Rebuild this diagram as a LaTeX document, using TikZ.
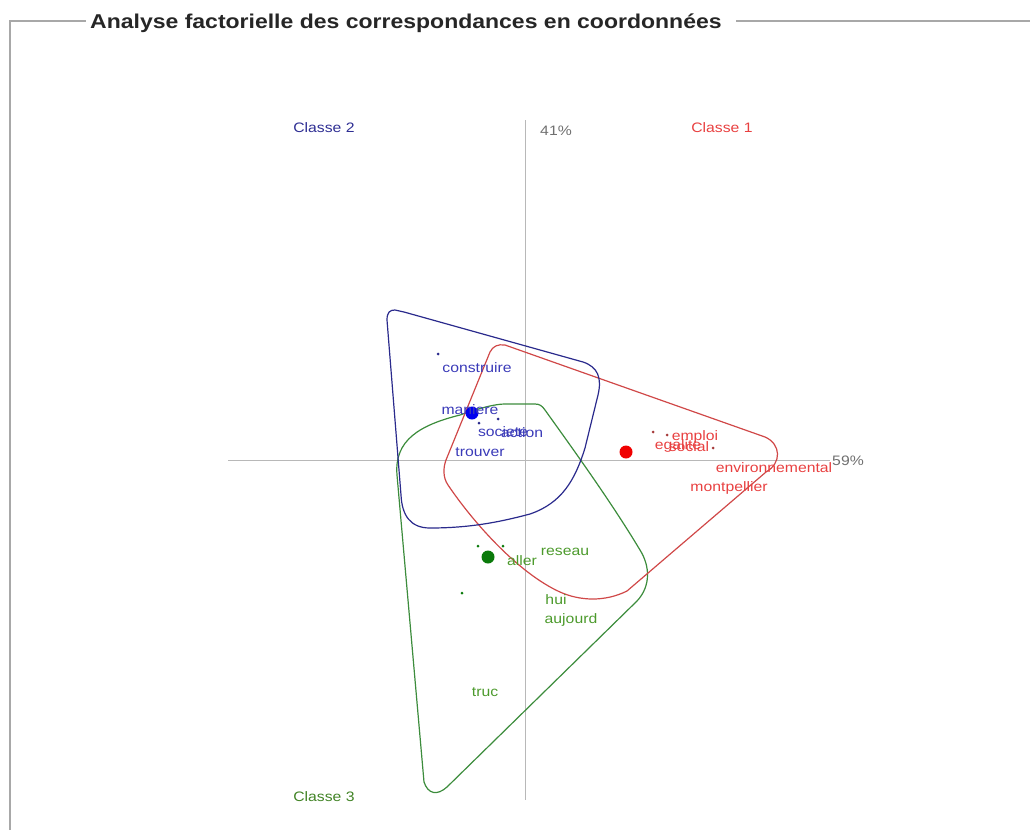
\documentclass[tikz,border=0pt]{standalone}
\usepackage{fontspec}
\setmainfont{Liberation Sans}
\newfontfamily\labfont[FakeStretch=1.15]{Liberation Sans}
\definecolor{framegray}{HTML}{A8A8A8}
\definecolor{axisgray}{HTML}{B8B8B8}
\definecolor{pctgray}{HTML}{707070}
\definecolor{bluecurve}{HTML}{2A2A8C}
\definecolor{bluetext}{HTML}{3A3AB8}
\definecolor{bluedot}{HTML}{0000F0}
\definecolor{redcurve}{HTML}{D04848}
\definecolor{redtext}{HTML}{E84040}
\definecolor{reddot}{HTML}{F00000}
\definecolor{greencurve}{HTML}{3C8C3C}
\definecolor{greentext}{HTML}{4C9A2C}
\definecolor{greendot}{HTML}{0A7A0A}
\begin{document}
\begin{tikzpicture}[x=1pt,y=-1pt,
  frame/.style={draw=framegray,line width=1.6pt},
  axis/.style={draw=axisgray,line width=1pt},
  hull/.style={line width=1.2pt},
  lab/.style={font=\labfont\fontsize{13.7}{16}\selectfont,inner sep=0pt,anchor=center},
  bigdot/.style={circle,inner sep=0pt,minimum size=13pt},
  smalldot/.style={circle,inner sep=0pt,minimum size=3pt}]
\useasboundingbox (0,0) rectangle (1030,830);
% frame
\node[font=\labfont\bfseries\fontsize{20}{24}\selectfont,inner sep=0pt,anchor=base west,text=black!85] (title) at (90,28) {Analyse factorielle des correspondances en coordonnées};
\coordinate (fa) at (10,830);
\coordinate (fb) at (10,21);
\coordinate (fc) at (86,21);
\coordinate (fd) at (736,21);
\coordinate (fe) at (1030,21);
\draw[frame] (fa) -- (fb) -- (fc);
\draw[frame] (fd) -- (fe);
% axes
\coordinate (ay1) at (525,120);
\coordinate (ay2) at (525,800);
\coordinate (ax1) at (228,460);
\coordinate (ax2) at (830,460);
\draw[axis] (ay1) -- (ay2);
\draw[axis] (ax1) -- (ax2);
% hulls
\draw[hull,greencurve] (505,404) -- (535,404) .. controls (540,404) and (542,406) .. (545,410)
  .. controls (570,445) and (610,500) .. (640,550) .. controls (650,566) and (651,586) .. (637,601)
  -- (447,787) .. controls (437,796) and (428,794) .. (424,782)
  -- (397,475) .. controls (394,440) and (420,425) .. (460,415) .. controls (480,408) and (495,404) .. (505,404) -- cycle;
\draw[hull,redcurve] (505,345) -- (765,437) .. controls (781,444) and (782,463) .. (766,472)
  -- (627,591) .. controls (605,602) and (580,601) .. (560,592) .. controls (520,574) and (475,525) .. (448,485)
  .. controls (443,478) and (443,468) .. (446,460) -- (490,352) .. controls (493,346) and (498,344) .. (505,345) -- cycle;
\draw[hull,bluecurve] (395,310) -- (404,312) -- (583,362) .. controls (598,367) and (602,378) .. (598,395)
  -- (585,448) .. controls (575,480) and (562,503) .. (530,514) .. controls (500,522) and (470,528) .. (430,528)
  .. controls (410,528) and (402,515) .. (401,495) -- (387,320) .. controls (387,312) and (390,310) .. (395,310) -- cycle;
% dots
\node[bigdot,fill=bluedot] (cb) at (472,413) {};
\node[bigdot,fill=reddot] (cr) at (626,452) {};
\node[bigdot,fill=greendot] (cg) at (488,557) {};
\node[smalldot,fill=bluecurve] (b1) at (438,354) {};
\node[smalldot,fill=bluecurve] (b2) at (479,423) {};
\node[smalldot,fill=bluecurve] (b3) at (498,419) {};
\node[smalldot,fill=redcurve!80!black] (r1) at (653,432) {};
\node[smalldot,fill=redcurve!80!black] (r2) at (667,435) {};
\node[smalldot,fill=redcurve!80!black] (r3) at (713,448) {};
\node[smalldot,fill=greendot] (g1) at (478,546) {};
\node[smalldot,fill=greendot] (g2) at (503,546) {};
\node[smalldot,fill=greendot] (g3) at (462,593) {};
% axis labels
\node[lab,text=pctgray] (p41) at (556,131) {41\%};
\node[lab,text=pctgray] (p59) at (848,461) {59\%};
% class labels
\node[lab,text=bluetext!80!black] (c2) at (324,128) {Classe 2};
\node[lab,text=redtext] (c1) at (722,128) {Classe 1};
\node[lab,text=greentext!85!black] (c3) at (324,797) {Classe 3};
% blue words
\node[lab,text=bluetext] (w1) at (477,368) {construire};
\node[lab,text=bluetext] (w2) at (470,410) {maniere};
\node[lab,text=bluetext] (w3) at (503,432) {societe};
\node[lab,text=bluetext] (w4) at (522,433) {action};
\node[lab,text=bluetext] (w5) at (480,452) {trouver};
% red words
\node[lab,text=redtext] (w6) at (695,437) {emploi};
\node[lab,text=redtext] (w7) at (678,446) {egalite};
\node[lab,text=redtext] (w8) at (689,447) {social};
\node[lab,text=redtext] (w9) at (774,468) {environnemental};
\node[lab,text=redtext] (w10) at (729,488) {montpellier};
% green words
\node[lab,text=greentext] (w11) at (565,552) {reseau};
\node[lab,text=greentext] (w12) at (522,561) {aller};
\node[lab,text=greentext] (w13) at (556,600) {hui};
\node[lab,text=greentext] (w14) at (571,620) {aujourd};
\node[lab,text=greentext] (w15) at (485,692) {truc};
\end{tikzpicture}
\end{document}
